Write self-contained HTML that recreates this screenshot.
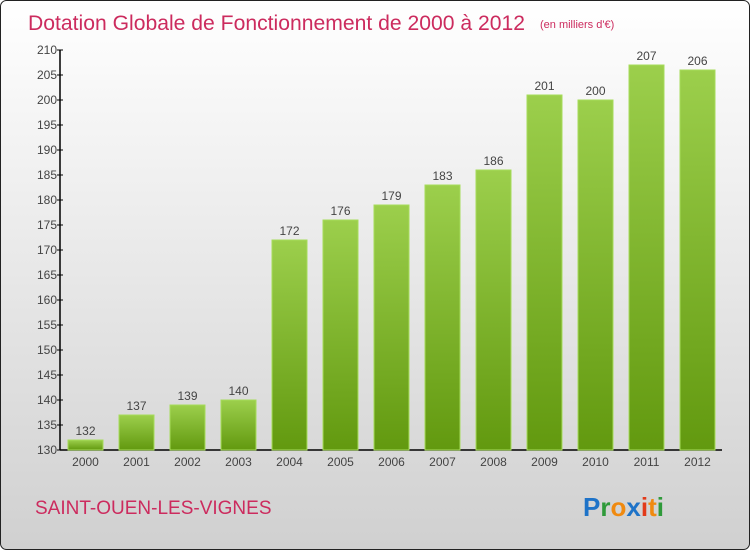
<!DOCTYPE html>
<html><head><meta charset="utf-8"><style>
body{margin:0;}
#wrap{position:relative;width:750px;height:550px;overflow:hidden;font-family:"Liberation Sans",sans-serif;}
</style></head><body>
<div id="wrap">
<svg id="svg" width="750" height="550" xmlns="http://www.w3.org/2000/svg">
<defs>
<linearGradient id="bg" x1="0" y1="0" x2="0" y2="1"><stop offset="0" stop-color="#ffffff"/><stop offset="1" stop-color="#d0d0d0"/></linearGradient>
<linearGradient id="bar" x1="0" y1="0" x2="0" y2="1"><stop offset="0" stop-color="#9ccf4c"/><stop offset="1" stop-color="#62990f"/></linearGradient>
</defs>
<rect x="0.5" y="0.5" width="749" height="549" rx="6" fill="url(#bg)" stroke="#222"/>
<text x="28" y="30" font-size="21" fill="#cc2b5e" textLength="497" lengthAdjust="spacingAndGlyphs">Dotation Globale de Fonctionnement de 2000 à 2012</text>
<text x="540" y="28" font-size="11" fill="#cc2b5e">(en milliers d'€)</text>
<g id="axes"></g>
<g id="bars"></g>
<text x="35" y="514" font-size="19" fill="#cc2b5e">SAINT-OUEN-LES-VIGNES</text>
<text x="583" y="516" font-size="26" font-weight="bold"><tspan fill="#1e73c8">P</tspan><tspan fill="#2f9a3a">r</tspan><tspan fill="#f08a10">o</tspan><tspan fill="#1e73c8">x</tspan><tspan fill="#e23a1a">i</tspan><tspan fill="#f08a10">t</tspan><tspan fill="#2f9a3a">i</tspan></text>
</svg>
</div>
<script>
const categories=["2000","2001","2002","2003","2004","2005","2006","2007","2008","2009","2010","2011","2012"];
const values=[132,137,139,140,172,176,179,183,186,201,200,207,206];
const yTicks=[130,135,140,145,150,155,160,165,170,175,180,185,190,195,200,205,210];
const NS="http://www.w3.org/2000/svg";
const yMin=130,yMax=210,plotTop=50,plotBottom=450,axisX=60,axisEnd=722;
function y(v){return plotBottom-(v-yMin)/(yMax-yMin)*(plotBottom-plotTop);}
function xc(i){return 85.5+i*51;}
function mk(tag,attrs,parent,txt){const e=document.createElementNS(NS,tag);for(const k in attrs)e.setAttribute(k,attrs[k]);if(txt!==undefined)e.textContent=txt;parent.appendChild(e);return e;}
const ax=document.getElementById('axes'),bg=document.getElementById('bars');
let l=mk('line',{x1:axisX,y1:plotTop,x2:axisX,y2:plotBottom,stroke:'#000','stroke-width':1.5},ax);


l=mk('line',{x1:axisX,y1:plotBottom,x2:axisEnd,y2:plotBottom,stroke:'#000','stroke-width':1.5},ax);


yTicks.forEach(t=>{
  const tk=mk('line',{x1:axisX-3,y1:y(t),x2:axisX+3,y2:y(t),stroke:'#000'},ax);
  
  
  const tx=mk('text',{x:axisX-3,y:y(t)+4,'text-anchor':'end','font-size':12,fill:'#444'},ax,t);
  
  
});
categories.forEach((c,i)=>{
  const cx=xc(i),w=35,top=y(values[i]);
  const r=mk('rect',{x:cx-w/2,y:top,width:w,height:plotBottom-top,fill:'url(#bar)',stroke:'#a6dc5a','stroke-width':1},bg);
  
  
  const vl=mk('text',{x:cx,y:top-5,'text-anchor':'middle','font-size':12,fill:'#444'},bg,values[i]);
  
  
  const xl=mk('text',{x:cx,y:plotBottom+16,'text-anchor':'middle','font-size':12,fill:'#444'},bg,c);
  
  
});
</script>
</body></html>
